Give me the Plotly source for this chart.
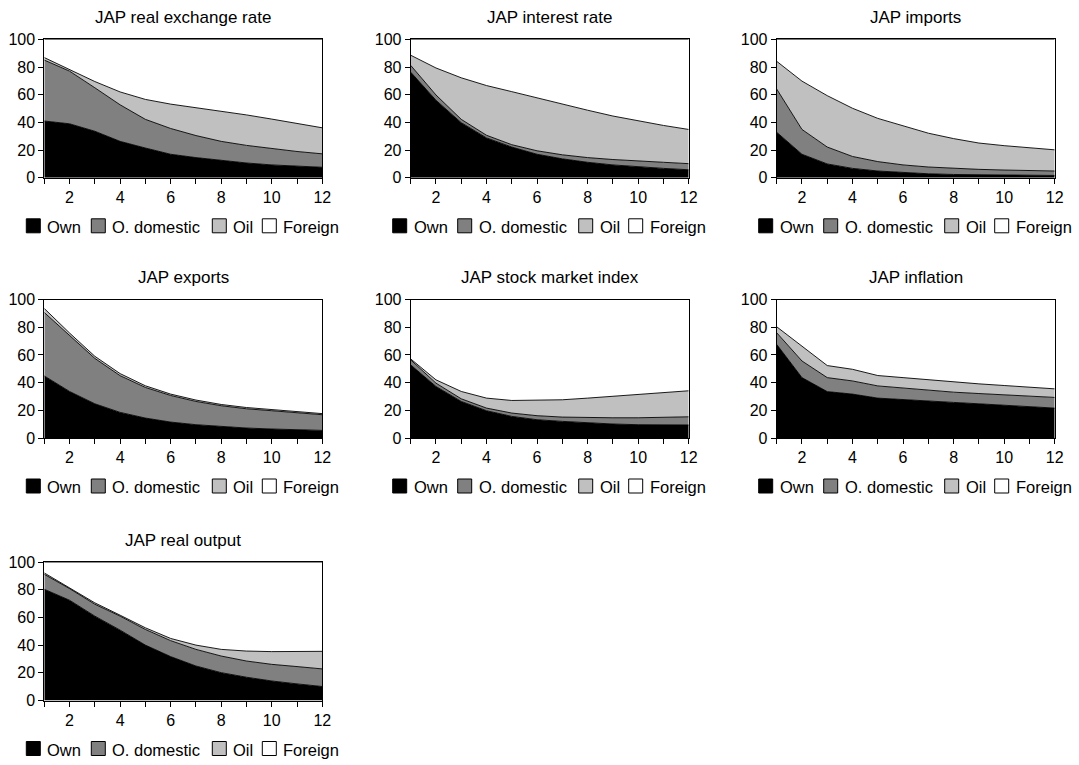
import plotly.graph_objects as go

# ---------------- data (forecast error variance shares, %) ----------------
periods = list(range(1, 13))
series_names = ["Own", "O. domestic", "Oil", "Foreign"]
series_colors = ["#000000", "#808080", "#c0c0c0", "#ffffff"]

titles = ["JAP real exchange rate", "JAP interest rate", "JAP imports",
          "JAP exports", "JAP stock market index", "JAP inflation",
          "JAP real output"]

rer_own = [41.0, 39.0, 33.6, 26.3, 21.5, 17.0, 14.6, 12.4, 10.7, 9.3, 8.3, 7.6]
rer_od = [44.0, 38.0, 31.4, 26.4, 20.7, 18.6, 15.9, 13.9, 12.7, 11.7, 10.7, 9.7]
rer_oil = [1.8, 1.3, 4.5, 9.3, 14.4, 17.6, 20.2, 22.0, 22.0, 21.4, 20.3, 18.8]
rer_for = [13.2, 21.7, 30.5, 38.0, 43.4, 46.8, 49.3, 51.7, 54.6, 57.6, 60.7, 63.9]

int_own = [76.3, 56.0, 39.8, 28.8, 22.2, 17.0, 13.7, 11.2, 9.3, 7.8, 6.8, 5.8]
int_od = [4.9, 3.8, 2.4, 1.9, 1.7, 2.5, 2.9, 3.4, 3.9, 4.2, 4.4, 4.4]
int_oil = [7.3, 19.5, 30.0, 35.9, 38.3, 38.1, 36.6, 34.2, 31.4, 29.0, 26.6, 24.7]
int_for = [11.5, 20.7, 27.8, 33.4, 37.8, 42.4, 46.8, 51.2, 55.4, 59.0, 62.2, 65.1]

imp_own = [32.9, 17.0, 10.0, 6.8, 4.9, 3.7, 2.9, 2.4, 2.2, 2.0, 2.0, 1.7]
imp_od = [31.2, 17.9, 12.2, 8.6, 6.8, 5.6, 4.9, 4.4, 3.9, 3.6, 3.1, 3.2]
imp_oil = [20.0, 34.9, 37.1, 34.8, 31.2, 28.0, 24.4, 21.5, 19.0, 17.6, 16.4, 15.3]
imp_for = [15.9, 30.2, 40.7, 49.8, 57.1, 62.7, 67.8, 71.7, 74.9, 76.8, 78.5, 79.8]

exp_own = [44.8, 33.6, 24.7, 18.5, 14.4, 11.5, 9.6, 8.2, 7.2, 6.5, 6.0, 5.5]
exp_od = [45.8, 40.7, 32.8, 26.5, 22.1, 19.2, 16.8, 15.1, 13.9, 13.2, 12.2, 11.3]
exp_oil = [2.9, 1.5, 1.5, 1.5, 1.2, 1.0, 1.0, 0.9, 0.9, 0.8, 0.8, 0.8]
exp_for = [6.5, 24.2, 41.0, 53.5, 62.3, 68.3, 72.6, 75.8, 78.0, 79.5, 81.0, 82.4]

stk_own = [52.8, 37.2, 26.4, 19.7, 15.6, 13.2, 12.0, 10.8, 10.1, 9.6, 9.4, 9.4]
stk_od = [3.6, 2.4, 1.9, 1.9, 2.4, 2.9, 3.1, 3.8, 4.5, 5.0, 5.5, 5.9]
stk_oil = [0.7, 2.4, 5.3, 7.2, 9.1, 11.0, 12.5, 14.2, 15.4, 17.1, 18.0, 18.8]
stk_for = [42.9, 58.0, 66.4, 71.2, 72.9, 72.9, 72.4, 71.2, 70.0, 68.3, 67.1, 65.9]

inf_own = [67.6, 43.6, 33.5, 31.7, 28.8, 27.6, 26.4, 25.7, 24.7, 23.5, 22.5, 21.6]
inf_od = [8.4, 12.0, 10.1, 9.5, 8.8, 8.4, 7.9, 7.4, 7.4, 7.7, 7.7, 7.7]
inf_oil = [4.3, 10.4, 8.7, 8.4, 7.5, 7.6, 7.7, 7.4, 7.0, 6.7, 6.5, 6.2]
inf_for = [19.7, 34.0, 47.7, 50.4, 54.9, 56.4, 58.0, 59.5, 60.9, 62.1, 63.3, 64.5]

out_own = [80.3, 72.4, 60.9, 50.8, 40.0, 31.7, 24.9, 20.1, 16.8, 14.1, 12.0, 10.1]
out_od = [10.8, 8.4, 8.6, 10.1, 11.3, 11.5, 12.0, 12.0, 11.7, 12.0, 12.5, 12.7]
out_oil = [1.0, 0.7, 1.0, 0.7, 1.2, 1.6, 3.1, 4.8, 7.2, 9.2, 10.8, 12.7]
out_for = [7.9, 18.5, 29.5, 38.4, 47.5, 55.2, 60.0, 63.1, 64.3, 64.7, 64.7, 64.5]

panels = [
    [rer_own, rer_od, rer_oil, rer_for],
    [int_own, int_od, int_oil, int_for],
    [imp_own, imp_od, imp_oil, imp_for],
    [exp_own, exp_od, exp_oil, exp_for],
    [stk_own, stk_od, stk_oil, stk_for],
    [inf_own, inf_od, inf_oil, inf_for],
    [out_own, out_od, out_oil, out_for],
]

# ---------------- layout geometry (pixels) ----------------
W, H = 1079, 765
col_left = [44.3, 410.7, 776.7]
plot_w = 278.0
row_top = [39.3, 299.5, 562.0]
plot_h = 138.5

FONT = "Liberation Sans, Arial, Helvetica, sans-serif"

fig = go.Figure()
layout_axes = {}
annotations = []
shapes = []

def px_x(p):
    return p / W

def px_y(p):
    return 1 - p / H

for i, (title, data) in enumerate(zip(titles, panels)):
    r, c = divmod(i, 3)
    k = i + 1
    xa = "x" if k == 1 else f"x{k}"
    ya = "y" if k == 1 else f"y{k}"
    left = col_left[c]
    right = left + plot_w
    top = row_top[r]
    bottom = top + plot_h

    for name, color, vals in zip(series_names, series_colors, data):
        fig.add_trace(go.Scatter(
            x=periods, y=vals, mode="lines", name=name,
            stackgroup=f"s{k}", fillcolor=color,
            line=dict(color="black", width=0.9),
            xaxis=xa, yaxis=ya, showlegend=False,
            hovertemplate=name + ": %{y:.1f}<extra></extra>",
        ))

    axis_common = dict(
        showline=True, mirror=True, linecolor="black", linewidth=1,
        showgrid=False, zeroline=False, ticks="outside", ticklen=5,
        tickcolor="black", tickwidth=1, automargin=False,
        tickfont=dict(family=FONT, size=16, color="black"),
    )
    layout_axes["xaxis" if k == 1 else f"xaxis{k}"] = dict(
        axis_common, domain=[px_x(left), px_x(right)], anchor=ya,
        range=[1, 12], tickvals=[2, 4, 6, 8, 10, 12],
        minor=dict(tickvals=[1, 3, 5, 7, 9, 11], ticks="outside", ticklen=5,
                   tickcolor="black", tickwidth=1, showgrid=False),
    )
    layout_axes["yaxis" if k == 1 else f"yaxis{k}"] = dict(
        axis_common, domain=[px_y(bottom), px_y(top)], anchor=xa,
        range=[0, 100], tickvals=[0, 20, 40, 60, 80, 100],
    )

    # subplot title
    annotations.append(dict(
        text=title, xref="paper", yref="paper",
        x=px_x((left + right) / 2), y=px_y(top - 22),
        xanchor="center", yanchor="middle", showarrow=False,
        font=dict(family=FONT, size=17, color="black"),
    ))

    # legend below each panel
    ly = bottom + 48
    sq_off = [-18, 47, 168, 218]
    for name, color, off in zip(series_names, series_colors, sq_off):
        x0 = left + off
        shapes.append(dict(
            type="rect", xref="paper", yref="paper",
            x0=px_x(x0), x1=px_x(x0 + 14), y0=px_y(ly + 7), y1=px_y(ly - 7),
            fillcolor=color, line=dict(color="black", width=1),
        ))
        annotations.append(dict(
            text=name, xref="paper", yref="paper",
            x=px_x(x0 + 19), y=px_y(ly + 1),
            xanchor="left", yanchor="middle", showarrow=False,
            font=dict(family=FONT, size=16.5, color="black"),
        ))

fig.update_layout(
    width=W, height=H, margin=dict(l=0, r=0, t=0, b=0, autoexpand=False),
    paper_bgcolor="white", plot_bgcolor="white",
    font=dict(family=FONT, color="black"),
    showlegend=False,
    annotations=annotations, shapes=shapes,
    **layout_axes,
)

fig.write_html("out.html")
